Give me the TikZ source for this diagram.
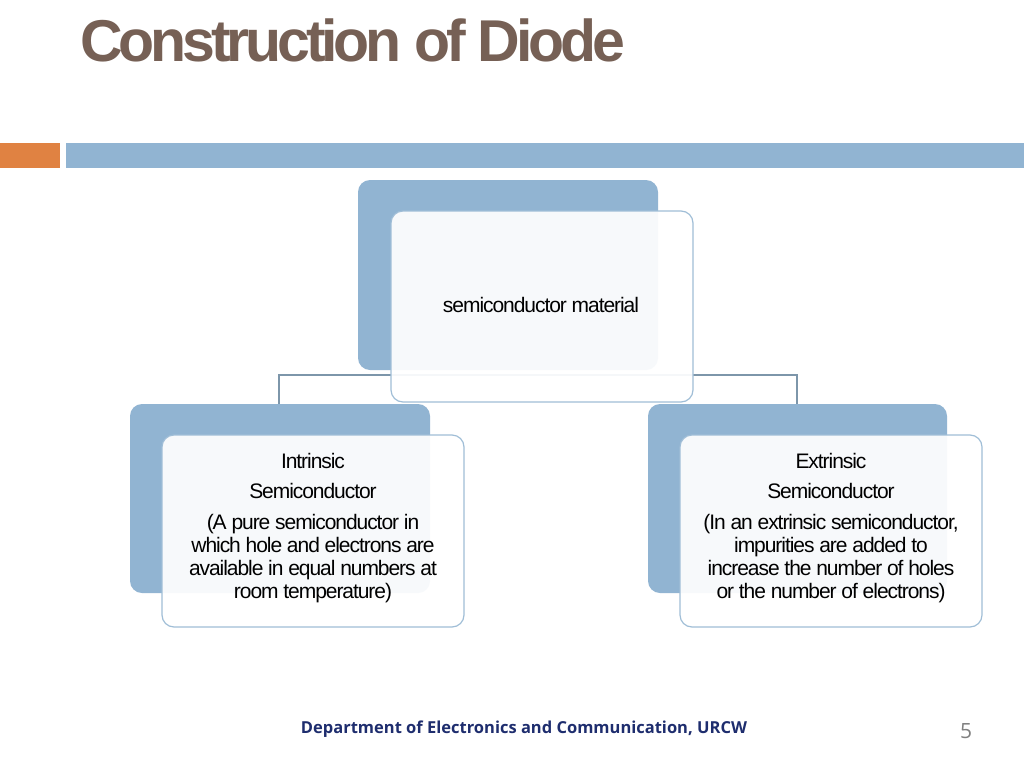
\documentclass[tikz,border=0pt]{standalone}
\usepackage{fontspec}
\setmainfont{Liberation Sans}
\newfontfamily\footfont{Open Sans}
\begin{document}
\begin{tikzpicture}[x=1pt,y=-1pt,
  back/.style={fill=bluebar, rounded corners=12pt},
  front/.style={fill=white, fill opacity=0.93, text opacity=1, draw=boxline, line width=1.2pt, rounded corners=12pt},
  txt/.style={font=\fontsize{21}{23}\selectfont\addfontfeature{LetterSpace=-5}, align=center, text=black},
  conn/.style={draw=connc, line width=1.5pt}]
\definecolor{bluebar}{RGB}{145,180,210}
\definecolor{orangebar}{RGB}{224,130,66}
\definecolor{boxline}{RGB}{160,190,215}
\definecolor{connc}{RGB}{125,150,170}
\definecolor{titlec}{RGB}{118,96,85}
\definecolor{footc}{RGB}{30,45,110}
\useasboundingbox (0,0) rectangle (1024,768);
\fill[white] (0,0) rectangle (1024,768);
\node[anchor=base west, inner sep=0, text=titlec, font=\fontsize{59}{62}\selectfont\bfseries\addfontfeature{LetterSpace=-7}] (title) at (80,62) {Construction of Diode};
\fill[orangebar] (0,143) rectangle (60,168);
\fill[bluebar] (66,143) rectangle (1024,168);
% connectors
\coordinate (cl) at (279,375);
\coordinate (cr) at (797,375);
\draw[conn] (279,404) -- (cl) -- (cr) -- (797,404);
% top
\fill[back] (358,180) rectangle (658,370);
\draw[front] (391,211) rectangle (693,402);
\node[txt] (top) at (541,305) {semiconductor material};
% left
\fill[back] (130,404) rectangle (430,593);
\draw[front] (162,435) rectangle (464,627);
\node[txt, anchor=north] (left) at (313,450) {Intrinsic\\[7pt]Semiconductor\\[8pt](A pure semiconductor in\\which hole and electrons are\\available in equal numbers at\\room temperature)};
% right
\fill[back] (648,404) rectangle (947,593);
\draw[front] (680,435) rectangle (982,627);
\node[txt, anchor=north] (right) at (831,450) {Extrinsic\\[7pt]Semiconductor\\[8pt](In an extrinsic semiconductor,\\impurities are added to\\increase the number of holes\\or the number of electrons)};
\node[text=footc, font=\footfont\fontsize{16.5}{19}\selectfont\bfseries] (foot) at (524,729) {Department of Electronics and Communication, URCW};
\node[text=gray, font=\footfont\fontsize{21}{24}\selectfont] (pg) at (966,731) {5};
\end{tikzpicture}
\end{document}
